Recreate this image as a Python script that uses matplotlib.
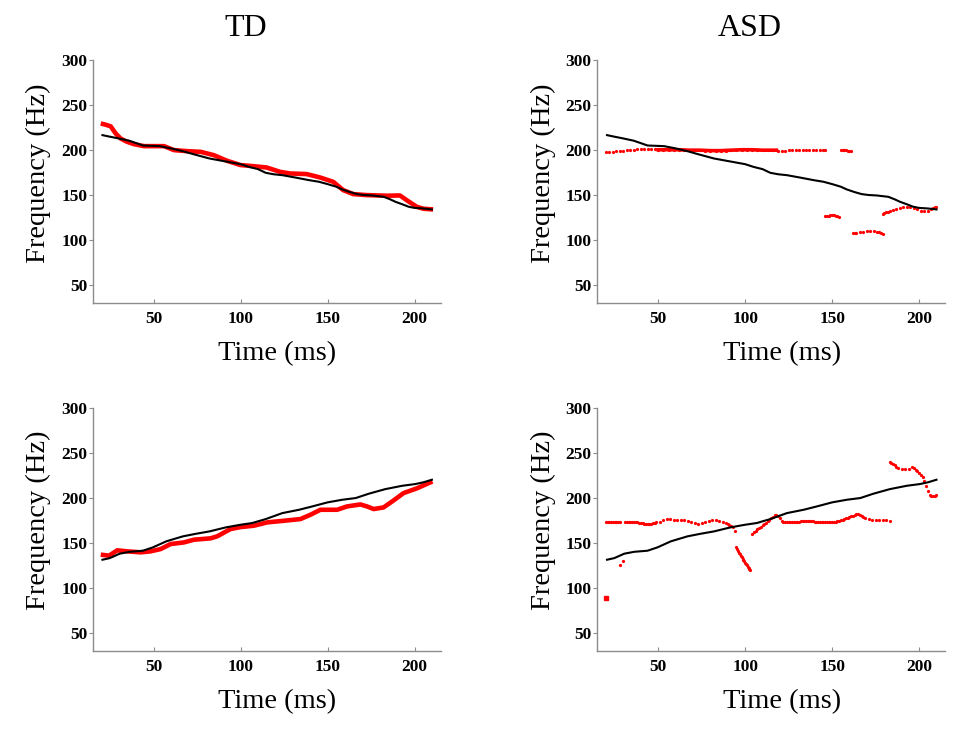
import numpy as np
import matplotlib
matplotlib.use("Agg")
import matplotlib.pyplot as plt

plt.rcParams['font.family'] = ['Liberation Serif', 'DejaVu Serif']

# black contour (stimulus), falling
fall_t = [20.6, 24, 30, 36, 43.9, 53.4, 60, 66.8, 74, 82.1, 90, 100, 104.8, 110, 114.5, 119, 124,
          132, 139.3, 145, 150, 155, 158.4, 163, 167, 171, 175.6, 182.3, 186, 189, 193, 196.6,
          200, 204.2, 207, 210]
fall_f = [216.2, 214.8, 212.5, 210, 204.7, 204, 201.5, 198.4, 194.5, 190.3, 187.5, 184, 181, 178.5,
          174.4, 172.8, 171.8, 169, 166.3, 164.5, 161.9, 159, 156, 153, 150.8, 149.8, 149.3, 147.8,
          145, 142.3, 139.5, 136.8, 135.5, 135, 134.5, 133.8]

# black contour (stimulus), rising
rise_t = [20.6, 24.8, 30.5, 36.3, 43.9, 49.6, 57.3, 66.8, 74.4, 82.1, 91.6, 100, 106.7, 114.5,
          124, 133.6, 141.2, 150, 158.4, 166.2, 173.7, 183.2, 192.9, 200.4, 205, 210]
rise_f = [131.2, 133, 137.9, 140, 141.2, 144.9, 151.6, 157.1, 160, 162.6, 167.1, 170, 171.9, 176.3,
          182.9, 186.6, 190.3, 194.8, 197.7, 199.6, 204.4, 209.5, 213.2, 215.1, 217, 219.9]

# TD imitation, falling
td_fall_t = [19.6, 22, 25.3, 28.2, 31, 34.5, 38.7, 44.4, 50, 56, 61.7, 69.3, 77, 84.6, 92.3, 100,
             107.3, 115, 122.7, 128.4, 138, 145.6, 153.3, 159, 164.8, 172.5, 184, 191.6, 195.4,
             201.2, 205, 210.7]
td_fall_f = [229.1, 228, 226, 218, 212.5, 209, 206.2, 204, 204, 204, 199.6, 198.4, 197.7, 194,
             187.7, 183, 181.8, 180.3, 175.5, 173.7, 173, 169.3, 164.4, 155.2, 150.8, 149.7, 149,
             149.3, 144.2, 136.8, 134.6, 133.8]

# TD imitation, rising
td_rise_t = [19.6, 24.4, 29.1, 34.9, 42.5, 48.3, 54, 59.8, 67.4, 73.2, 82.7, 86.5, 94.2, 100, 107.6,
             115.3, 124.9, 134.4, 140.2, 145.9, 155.5, 161.2, 168.9, 172.7, 176.5, 182.2, 188,
             193.7, 201.3, 210.3]
td_rise_f = [136.8, 135.7, 141.6, 140.5, 139.4, 140.5, 143, 148.6, 150.4, 153.4, 154.9, 157.1,
             165.2, 167.4, 168.9, 172.6, 174.4, 176.3, 181.1, 186.6, 186.6, 190.3, 192.5, 190.3,
             187.4, 189.2, 197, 205.1, 210.3, 218]

# ASD imitation, falling (pitch track fragments)
asd_fall_segs = [
    ([20, 22, 24, 26, 28, 30, 32, 34, 36, 38, 40, 42, 44, 46, 48, 50, 53, 56, 59, 62, 65, 68, 71,
      74, 77, 80, 83, 86, 89, 92, 95, 98, 101, 104, 107, 110, 113, 116, 119, 121, 123, 125, 127,
      129, 131, 133, 135, 137, 139, 141, 143, 145, 146],
     [198, 198, 198, 198.5, 198.5, 199, 199.5, 199.5, 200, 200.5, 201, 201, 201, 201, 200.5, 200,
      200, 200, 200, 200, 200, 199.5, 199.5, 199.5, 199, 199, 199, 199, 199, 199.5, 199.5, 200,
      200, 200, 200, 199.5, 199.5, 199.5, 199, 199, 199, 199.5, 200, 200, 200, 200, 200, 200, 200,
      200, 200, 200, 200]),
    ([155, 156, 157, 158, 159, 160, 161], [200, 200, 200, 199.5, 199, 199, 199]),
    ([146, 147, 148, 149, 150, 151, 152, 153, 154], [126, 126.5, 127, 127.5, 128, 127.5, 127, 126, 125]),
    ([162, 163, 164, 166, 168, 170, 172, 174, 176, 177, 178, 179.5],
     [108, 108, 108, 109, 109, 110, 110, 110, 109, 108.5, 108, 107]),
    ([179, 180, 181, 182, 183, 185, 187, 189, 191, 193, 195, 197, 199, 201, 203, 205, 207, 208, 209, 210],
     [129, 130, 131, 131.5, 132, 133.5, 134.5, 135, 136, 136, 136, 135, 134, 132.5, 132, 132.5, 134,
      135, 136, 137]),
]
asd_fall_band_t = [50, 56, 62, 68, 74, 80, 86, 92, 98, 104, 110, 118]
asd_fall_band_f = [200, 200, 200, 199.5, 199.5, 199, 199, 199.5, 200, 200, 199.5, 199.5]

# ASD imitation, rising (pitch track fragments)
asd_rise_segs = [
    ([20, 21, 22, 23, 24, 25, 26, 27, 28, 31, 32, 33, 34, 35, 36, 37, 38, 39, 40, 41, 42, 43, 44,
      45, 46, 47, 48, 49, 51, 53, 55, 57, 59, 61, 63, 65, 67, 69, 71, 73, 75, 77, 79, 81, 83, 85,
      87, 89, 90, 91, 92, 93, 94],
     [172.5, 172.5, 172.5, 172.5, 172.5, 172.5, 172.5, 172.5, 172.5, 172.5, 172.5, 172.5, 172.5,
      172.5, 172.5, 172.5, 172.5, 172.3, 172, 171.5, 171, 170.5, 170.5, 170.5, 171, 171.5, 172,
      172.5, 173.5, 175, 176, 176, 175.5, 175.5, 175.5, 175, 174.5, 173.5, 172, 171, 171.5, 173,
      174.5, 175.5, 175, 174, 173, 171.5, 170.5, 169.5, 168.5, 167, 163]),
    ([28, 29.5], [125.5, 129.5]),
    ([95, 95.5, 96, 96.5, 97, 97.5, 98, 98.5, 99, 99.5, 100, 100.5, 101, 101.5, 102, 102.5, 103],
     [145, 143, 141, 139, 137, 135.5, 134, 132.5, 131, 129.5, 128, 126.5, 125, 123.5, 122, 120.7, 119.5]),
    ([104, 105, 106, 107, 108, 109, 110, 111, 112, 113, 114, 115, 116, 117, 118, 119, 120, 121, 122, 123],
     [160, 161.5, 163, 165, 166.5, 168, 169.5, 171, 172, 174, 175.5, 177, 178.5, 180.5, 181, 180,
      177, 174.5, 173.5, 173]),
    ([124, 125, 126, 127, 128, 129, 130, 131, 132, 133, 134, 135, 136, 137, 138, 139, 140, 141, 142,
      143, 144, 145, 146, 147, 148, 149, 150, 151, 152, 153, 154, 155, 156, 157, 158, 159, 160, 161,
      162, 163, 164, 165, 166, 167, 168, 169, 171, 173, 175, 177, 179, 181, 183],
     [173, 173, 173, 173, 173.5, 173.5, 173.5, 173.5, 174, 174, 174.5, 174.5, 174.5, 174.5, 174, 174,
      173.5, 173.5, 173, 173, 172.5, 172.5, 172.5, 172.5, 172.5, 172.5, 172.5, 173, 173.5, 174,
      174.5, 175, 175.5, 176.5, 177, 178, 178.5, 179.5, 180, 181, 181.5, 181.5, 181, 180, 179,
      177.5, 176, 175.5, 175.5, 175.5, 175.5, 175, 174.5]),
    ([183, 184, 185, 186, 187, 188, 190, 192, 194, 196, 197, 198, 199, 200, 201, 202, 203, 204, 205,
      206, 207, 208, 209, 210],
     [240, 239, 237.5, 236, 234.5, 233, 231.5, 231.5, 232, 233.5, 232.5, 231, 229.5, 227.5, 225,
      223, 218, 213, 207, 203, 201.5, 201.5, 202, 202.5]),
]
asd_rise_lone_t = [20]
asd_rise_lone_f = [89]

titles = ['TD', 'ASD']
xticks = [50, 100, 150, 200]
yticks = [50, 100, 150, 200, 250, 300]

fig = plt.figure(figsize=(9.69, 7.40), dpi=100)
lefts = [0.0957, 0.6164]
bottoms = [0.5905, 0.1203]
axes = [[fig.add_axes([l, b, 0.359, 0.329]) for l in lefts] for b in bottoms]

red = '#ff0000'

# top row: falling
axes[0][0].plot(fall_t, fall_f, color='black', lw=1.5, zorder=3)
axes[0][0].plot(td_fall_t, td_fall_f, color=red, lw=3.3, solid_capstyle='butt', zorder=2)
axes[0][1].plot(fall_t, fall_f, color='black', lw=1.5, zorder=3)
for t, f in asd_fall_segs:
    axes[0][1].plot(t, f, ls='none', marker='.', ms=2.6, color=red, zorder=2)
axes[0][1].plot(asd_fall_band_t, asd_fall_band_f, color=red, lw=2.6, zorder=2)

# bottom row: rising
axes[1][0].plot(rise_t, rise_f, color='black', lw=1.5, zorder=3)
axes[1][0].plot(td_rise_t, td_rise_f, color=red, lw=3.3, solid_capstyle='butt', zorder=2)
axes[1][1].plot(rise_t, rise_f, color='black', lw=1.5, zorder=3)
for t, f in asd_rise_segs:
    axes[1][1].plot(t, f, ls='none', marker='.', ms=2.6, color=red, zorder=2)
axes[1][1].plot(asd_rise_lone_t, asd_rise_lone_f, ls='none', marker='s', ms=3, color=red)

for row in axes:
    for ax in row:
        ax.set_xlim(15, 215)
        ax.set_ylim(30, 300)
        ax.set_xticks(xticks)
        ax.set_yticks(yticks)
        for side in ['top', 'right']:
            ax.spines[side].set_visible(False)
        for side in ['left', 'bottom']:
            ax.spines[side].set_color('#8c8c8c')
            ax.spines[side].set_linewidth(1)
        ax.tick_params(axis='x', direction='in', length=3, color='#8c8c8c', pad=6)
        ax.tick_params(axis='y', direction='out', length=3, color='#8c8c8c', pad=1)
        for lab in ax.get_xticklabels() + ax.get_yticklabels():
            lab.set_fontsize(12.5)
            lab.set_fontweight('bold')
        ax.set_xlabel('Time (ms)', fontsize=20.5)
        ax.set_ylabel('Frequency (Hz)', fontsize=20.5)
        ax.xaxis.set_label_coords(0.53, -0.155)
        ax.yaxis.set_label_coords(-0.12, 0.535)

fig.text(0.254, 0.951, titles[0], fontsize=23, ha='center', va='baseline')
fig.text(0.774, 0.951, titles[1], fontsize=23, ha='center', va='baseline')

fig.savefig('out.png', dpi=100)
